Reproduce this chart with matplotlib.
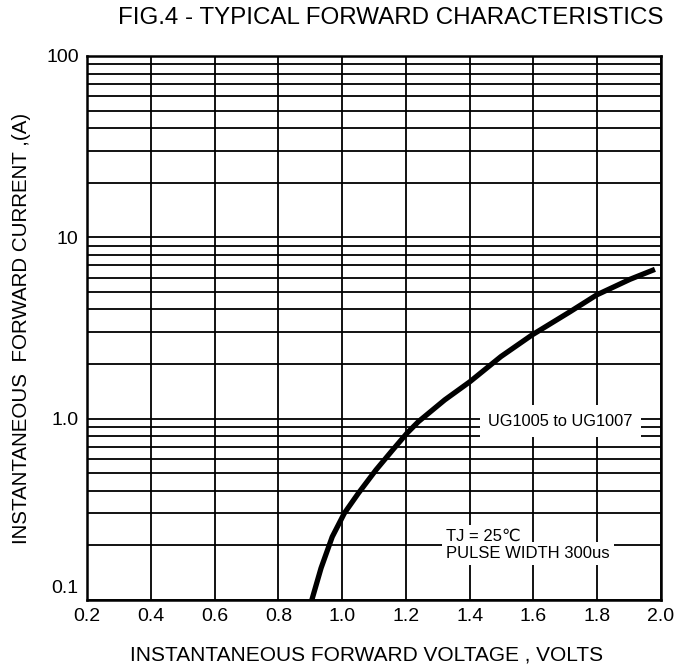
import numpy as np
import matplotlib
matplotlib.use("Agg")
import matplotlib.pyplot as plt
from matplotlib.ticker import LogLocator, FixedLocator, NullFormatter
from matplotlib.transforms import ScaledTranslation

FONT = ["Liberation Sans", "DejaVu Sans"]
plt.rcParams["font.family"] = FONT

# forward characteristic (volts, amps)
voltage = [0.905, 0.934, 0.969, 1.007, 1.051, 1.106, 1.156, 1.203, 1.239,
           1.322, 1.401, 1.498, 1.595, 1.715, 1.798, 1.903, 1.981]
current = [0.100, 0.150, 0.223, 0.301, 0.388, 0.521, 0.664, 0.830, 0.962,
           1.27, 1.60, 2.20, 2.89, 3.89, 4.81, 5.87, 6.66]

x_ticks = [0.2, 0.4, 0.6, 0.8, 1.0, 1.2, 1.4, 1.6, 1.8, 2.0]
x_labels = ["0.2", "0.4", "0.6", "0.8", "1.0", "1.2", "1.4", "1.6", "1.8", "2.0"]
y_ticks = [0.1, 1.0, 10, 100]
y_labels = ["0.1", "1.0", "10", "100"]

fig = plt.figure(figsize=(6.79, 6.69), dpi=100)
ax = fig.add_axes([87 / 679, 69 / 669, 574 / 679, 544 / 669])

ax.plot(voltage, current, color="black", lw=3.8, solid_capstyle="butt",
        solid_joinstyle="round", zorder=4)

ax.set_yscale("log")
ax.set_xlim(0.2, 2.0)
ax.set_ylim(0.1, 100)
ax.xaxis.set_major_locator(FixedLocator(x_ticks))
ax.set_xticklabels(x_labels)
ax.yaxis.set_major_locator(FixedLocator(y_ticks))
ax.yaxis.set_minor_locator(LogLocator(base=10, subs=np.arange(2, 10)))
ax.yaxis.set_minor_formatter(NullFormatter())
ax.set_yticklabels(y_labels)
ax.tick_params(which="both", length=0, labelsize=14, pad=6)
ax.grid(which="both", axis="both", color="black", lw=1.3, zorder=1)
ax.set_axisbelow(True)
for sp in ax.spines.values():
    sp.set_linewidth(1.8)

# the 0.1 label sits a little above the bottom edge in the original
lab01 = ax.get_yticklabels()[0]
lab01.set_transform(lab01.get_transform() + ScaledTranslation(0, 10 / 72, fig.dpi_scale_trans))

ax.text(0.699, 0.329, "UG1005 to UG1007", transform=ax.transAxes, fontsize=11.8,
        va="center", ha="left", bbox=dict(facecolor="white", edgecolor="none", pad=6),
        zorder=3)
ax.text(0.625, 0.085, "PULSE WIDTH 300us", transform=ax.transAxes, fontsize=12,
        va="center", ha="left", bbox=dict(facecolor="white", edgecolor="none", pad=3),
        zorder=3)
ax.text(0.625, 0.118, "TJ = 25\u2103", transform=ax.transAxes, fontsize=12,
        va="center", ha="left", bbox=dict(facecolor="white", edgecolor="none", pad=2),
        zorder=3.5)

fig.text(664 / 679, 1 - 18 / 669, "FIG.4 - TYPICAL FORWARD CHARACTERISTICS",
         ha="right", va="center", fontsize=17.4)
fig.text(367 / 679, 1 - 655 / 669, "INSTANTANEOUS FORWARD VOLTAGE , VOLTS",
         ha="center", va="center", fontsize=15)
fig.text(22 / 679, 1 - 328 / 669, "INSTANTANEOUS  FORWARD CURRENT ,(A)",
         ha="center", va="center", rotation=90, fontsize=14.8)

fig.savefig("out.png", dpi=100)
